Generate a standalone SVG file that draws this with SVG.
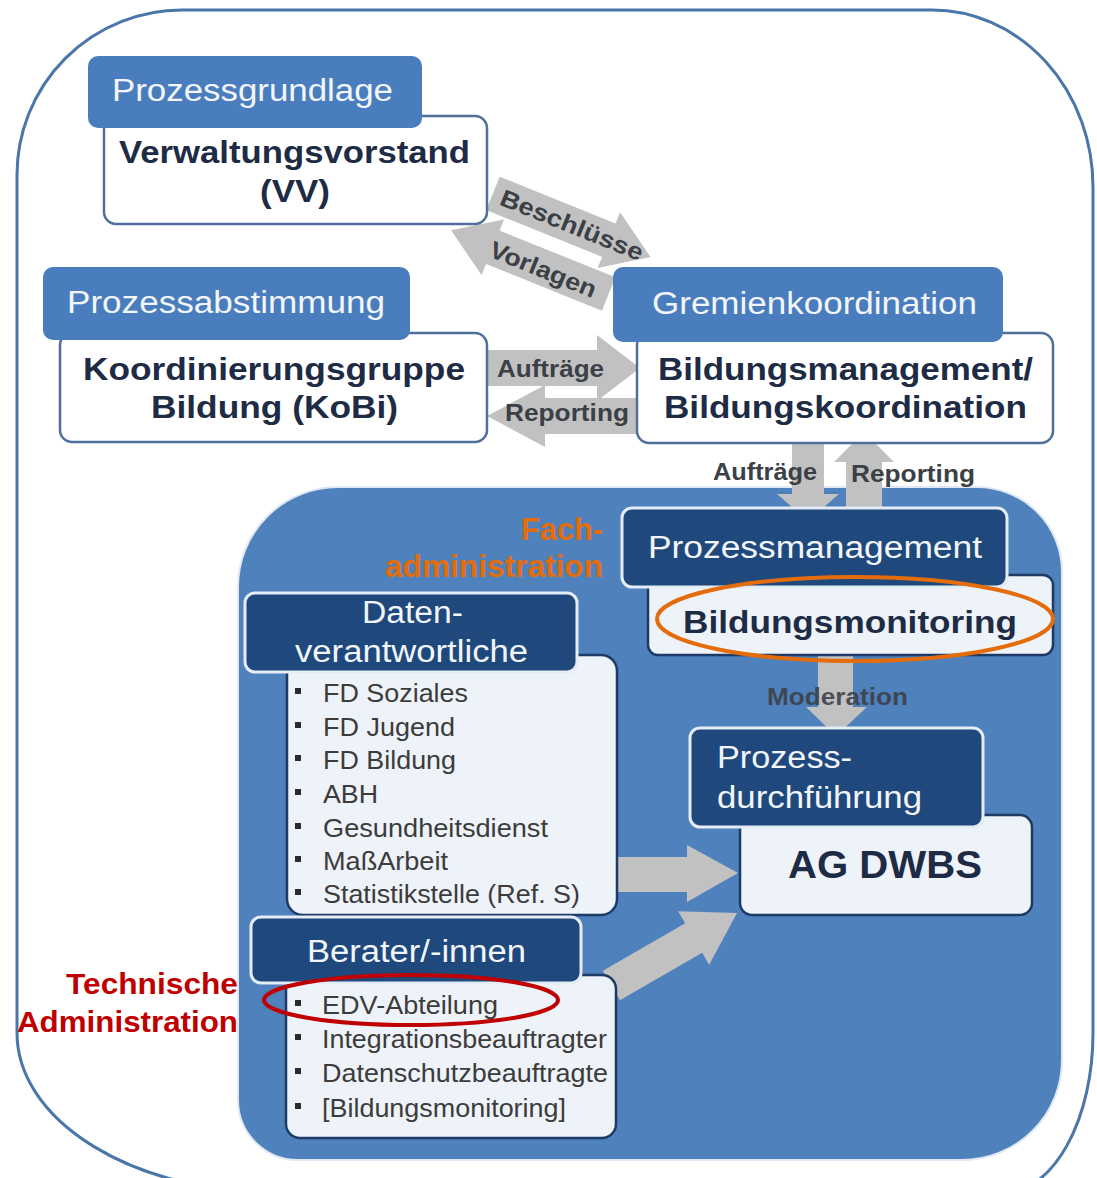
<svg xmlns="http://www.w3.org/2000/svg" width="1097" height="1178" viewBox="0 0 1097 1178">
<style>
text { font-family: "Liberation Sans", Arial, sans-serif; }
.hdr1 { fill: #4a7dbd; }
.hdr2 { fill: #1f497d; stroke: #e4ecf6; stroke-width: 3; }
.box1 { fill: #ffffff; stroke: #4f6f9c; stroke-width: 2.5; }
.box2 { fill: #eef2f9; stroke: #1c3b66; stroke-width: 2.5; }
.arrow { fill: #c1c1c1; }
.th { font-size: 31px; fill: #f2f6fb; }
.tb { font-size: 31px; font-weight: bold; fill: #1e2b45; }
.tl { font-size: 24px; font-weight: bold; fill: #3b3f46; }
.ti { font-size: 25px; fill: #3c3c3c; }
.bul { fill: #2b2b2b; }
.orange { font-size: 31px; font-weight: bold; fill: #e46c0a; }
.red { font-size: 30px; font-weight: bold; fill: #c00000; }
</style>

<!-- outer frame -->
<path d="M 182 10 H 932 A 161 177 0 0 1 1093 187 V 1033 A 90 160 0 0 1 1003 1193 H 277 A 260 160 0 0 1 17 1033 V 175 A 165 165 0 0 1 182 10 Z" fill="#ffffff" stroke="#4a76a8" stroke-width="3"/>

<!-- inner panel -->
<path d="M 338 487 H 977 A 85 85 0 0 1 1062 572 V 1060 A 100 100 0 0 1 962 1160 H 298 A 60 60 0 0 1 238 1100 V 587 A 100 100 0 0 1 338 487 Z" fill="#4f81bd" stroke="#dfe8f3" stroke-width="2"/>

<!-- connectors -->
<g id="connectors">
  <g transform="translate(555,240) rotate(22)">
    <polygon class="arrow" points="-75,-38 50,-38 50,-50 95,-20 50,10 50,-2 -75,-2"/>
    <polygon class="arrow" points="70,12 -55,12 -55,0 -100,30 -55,60 -55,48 70,48"/>
    <text class="tl" x="10" y="-12" text-anchor="middle" textLength="152" lengthAdjust="spacingAndGlyphs">Beschlüsse</text>
    <text class="tl" x="0" y="40" text-anchor="middle" textLength="113" lengthAdjust="spacingAndGlyphs">Vorlagen</text>
  </g>
  <polygon class="arrow" points="487,350 597,350 597,335 640,368 597,401 597,386 487,386"/>
  <polygon class="arrow" points="637,398 545,398 545,385 487,416 545,447 545,434 637,434"/>
  <text class="tl" x="497" y="377" textLength="107" lengthAdjust="spacingAndGlyphs">Aufträge</text>
  <text class="tl" x="505" y="421" textLength="124" lengthAdjust="spacingAndGlyphs">Reporting</text>

  <polygon class="arrow" points="792,443 824,443 824,494 839,494 808,521 777,494 792,494"/>
  <polygon class="arrow" points="846,512 882,512 882,462 894,462 864,432 834,462 846,462"/>
  <text class="tl" x="713" y="480" textLength="104" lengthAdjust="spacingAndGlyphs">Aufträge</text>
  <text class="tl" x="851" y="482" textLength="124" lengthAdjust="spacingAndGlyphs">Reporting</text>

  <polygon class="arrow" points="818,653 853,653 853,707 867,707 836,736 806,707 818,707"/>
  <text class="tl" x="767" y="705" textLength="141" lengthAdjust="spacingAndGlyphs" fill-opacity="0.9">Moderation</text>

  <polygon class="arrow" points="612,857 687,857 687,845 738,873 687,902 687,892 612,892"/>
  <g transform="translate(737,913) rotate(-30)">
    <polygon class="arrow" points="-145,-17 -50,-17 -50,-31 0,0 -50,31 -50,17 -145,17"/>
  </g>
</g>

<!-- Prozessgrundlage / VV -->
<g id="node-vv">
  <rect class="box1" x="104" y="116" width="383" height="108" rx="12"/>
  <rect class="hdr1" x="88" y="56" width="334" height="72" rx="10"/>
  <text class="th" x="112" y="101" textLength="281" lengthAdjust="spacingAndGlyphs">Prozessgrundlage</text>
  <text class="tb" x="119" y="163" textLength="351" lengthAdjust="spacingAndGlyphs">Verwaltungsvorstand</text>
  <text class="tb" x="260" y="202" textLength="70" lengthAdjust="spacingAndGlyphs">(VV)</text>
</g>

<!-- Prozessabstimmung / KoBi -->
<g id="node-kobi">
  <rect class="box1" x="60" y="333" width="427" height="109" rx="12"/>
  <rect class="hdr1" x="43" y="267" width="367" height="73" rx="10"/>
  <text class="th" x="67" y="313" textLength="318" lengthAdjust="spacingAndGlyphs">Prozessabstimmung</text>
  <text class="tb" x="83" y="380" textLength="382" lengthAdjust="spacingAndGlyphs">Koordinierungsgruppe</text>
  <text class="tb" x="151" y="418" textLength="247" lengthAdjust="spacingAndGlyphs">Bildung (KoBi)</text>
</g>

<!-- Gremienkoordination -->
<g id="node-gremien">
  <rect class="box1" x="637" y="333" width="416" height="110" rx="12"/>
  <rect class="hdr1" x="613" y="267" width="390" height="75" rx="10"/>
  <text class="th" x="652" y="314" textLength="325" lengthAdjust="spacingAndGlyphs">Gremienkoordination</text>
  <text class="tb" x="658" y="380" textLength="375" lengthAdjust="spacingAndGlyphs">Bildungsmanagement/</text>
  <text class="tb" x="664" y="418" textLength="363" lengthAdjust="spacingAndGlyphs">Bildungskoordination</text>
</g>

<!-- Prozessmanagement / Bildungsmonitoring -->
<g id="node-prozessmanagement">
  <rect class="box2" x="648" y="575" width="405" height="80" rx="10"/>
  <rect class="hdr2" x="622" y="508" width="385" height="79" rx="10"/>
  <text class="th" x="648" y="558" textLength="334" lengthAdjust="spacingAndGlyphs">Prozessmanagement</text>
  <text class="tb" x="683" y="633" textLength="334" lengthAdjust="spacingAndGlyphs">Bildungsmonitoring</text>
  <ellipse cx="855" cy="619" rx="198" ry="42" fill="none" stroke="#e46c0a" stroke-width="4"/>
</g>

<!-- Datenverantwortliche -->
<g id="node-daten">
  <rect class="box2" x="287" y="655" width="330" height="260" rx="16"/>
  <rect class="hdr2" x="245" y="593" width="332" height="79" rx="10"/>
  <text class="th" x="362" y="623" textLength="101" lengthAdjust="spacingAndGlyphs">Daten-</text>
  <text class="th" x="295" y="662" textLength="233" lengthAdjust="spacingAndGlyphs">verantwortliche</text>
  <rect class="bul" x="295" y="688" width="6" height="6"/>
  <text class="ti" x="323" y="702" textLength="145" lengthAdjust="spacingAndGlyphs">FD Soziales</text>
  <rect class="bul" x="295" y="722" width="6" height="6"/>
  <text class="ti" x="323" y="736" textLength="132" lengthAdjust="spacingAndGlyphs">FD Jugend</text>
  <rect class="bul" x="295" y="755" width="6" height="6"/>
  <text class="ti" x="323" y="769" textLength="133" lengthAdjust="spacingAndGlyphs">FD Bildung</text>
  <rect class="bul" x="295" y="789" width="6" height="6"/>
  <text class="ti" x="323" y="803" textLength="55" lengthAdjust="spacingAndGlyphs">ABH</text>
  <rect class="bul" x="295" y="823" width="6" height="6"/>
  <text class="ti" x="323" y="837" textLength="225" lengthAdjust="spacingAndGlyphs">Gesundheitsdienst</text>
  <rect class="bul" x="295" y="856" width="6" height="6"/>
  <text class="ti" x="323" y="870" textLength="125" lengthAdjust="spacingAndGlyphs">MaßArbeit</text>
  <rect class="bul" x="295" y="889" width="6" height="6"/>
  <text class="ti" x="323" y="903" textLength="257" lengthAdjust="spacingAndGlyphs">Statistikstelle (Ref. S)</text>
</g>

<!-- Prozessdurchführung / AG DWBS -->
<g id="node-agdwbs">
  <rect class="box2" x="740" y="815" width="292" height="100" rx="12"/>
  <rect class="hdr2" x="690" y="728" width="293" height="99" rx="10"/>
  <text class="th" x="717" y="768" textLength="135" lengthAdjust="spacingAndGlyphs">Prozess-</text>
  <text class="th" x="717" y="808" textLength="205" lengthAdjust="spacingAndGlyphs">durchführung</text>
  <text class="tb" x="788" y="878" font-size="38" textLength="194" lengthAdjust="spacingAndGlyphs" style="font-size:38px">AG DWBS</text>
</g>

<!-- Berater/-innen -->
<g id="node-berater">
  <rect class="box2" x="286" y="975" width="330" height="163" rx="14"/>
  <rect class="hdr2" x="251" y="917" width="330" height="66" rx="10"/>
  <text class="th" x="307" y="962" textLength="219" lengthAdjust="spacingAndGlyphs">Berater/-innen</text>
  <rect class="bul" x="295" y="1000" width="6" height="6"/>
  <text class="ti" x="322" y="1014" textLength="176" lengthAdjust="spacingAndGlyphs">EDV-Abteilung</text>
  <rect class="bul" x="295" y="1034" width="6" height="6"/>
  <text class="ti" x="322" y="1048" textLength="285" lengthAdjust="spacingAndGlyphs">Integrationsbeauftragter</text>
  <rect class="bul" x="295" y="1068" width="6" height="6"/>
  <text class="ti" x="322" y="1082" textLength="286" lengthAdjust="spacingAndGlyphs">Datenschutzbeauftragte</text>
  <rect class="bul" x="295" y="1103" width="6" height="6"/>
  <text class="ti" x="322" y="1117" textLength="244" lengthAdjust="spacingAndGlyphs">[Bildungsmonitoring]</text>
  <ellipse cx="411" cy="1000" rx="147" ry="25" fill="none" stroke="#c00000" stroke-width="4"/>
</g>

<!-- annotations -->
<g id="annot-fach">
  <text class="orange" x="603" y="540" text-anchor="end" textLength="82" lengthAdjust="spacingAndGlyphs">Fach-</text>
  <text class="orange" x="603" y="577" text-anchor="end" textLength="218" lengthAdjust="spacingAndGlyphs">administration</text>
</g>
<g id="annot-tech">
  <text class="red" x="238" y="994" text-anchor="end" textLength="172" lengthAdjust="spacingAndGlyphs">Technische</text>
  <text class="red" x="238" y="1032" text-anchor="end" textLength="221" lengthAdjust="spacingAndGlyphs">Administration</text>
</g>
</svg>
